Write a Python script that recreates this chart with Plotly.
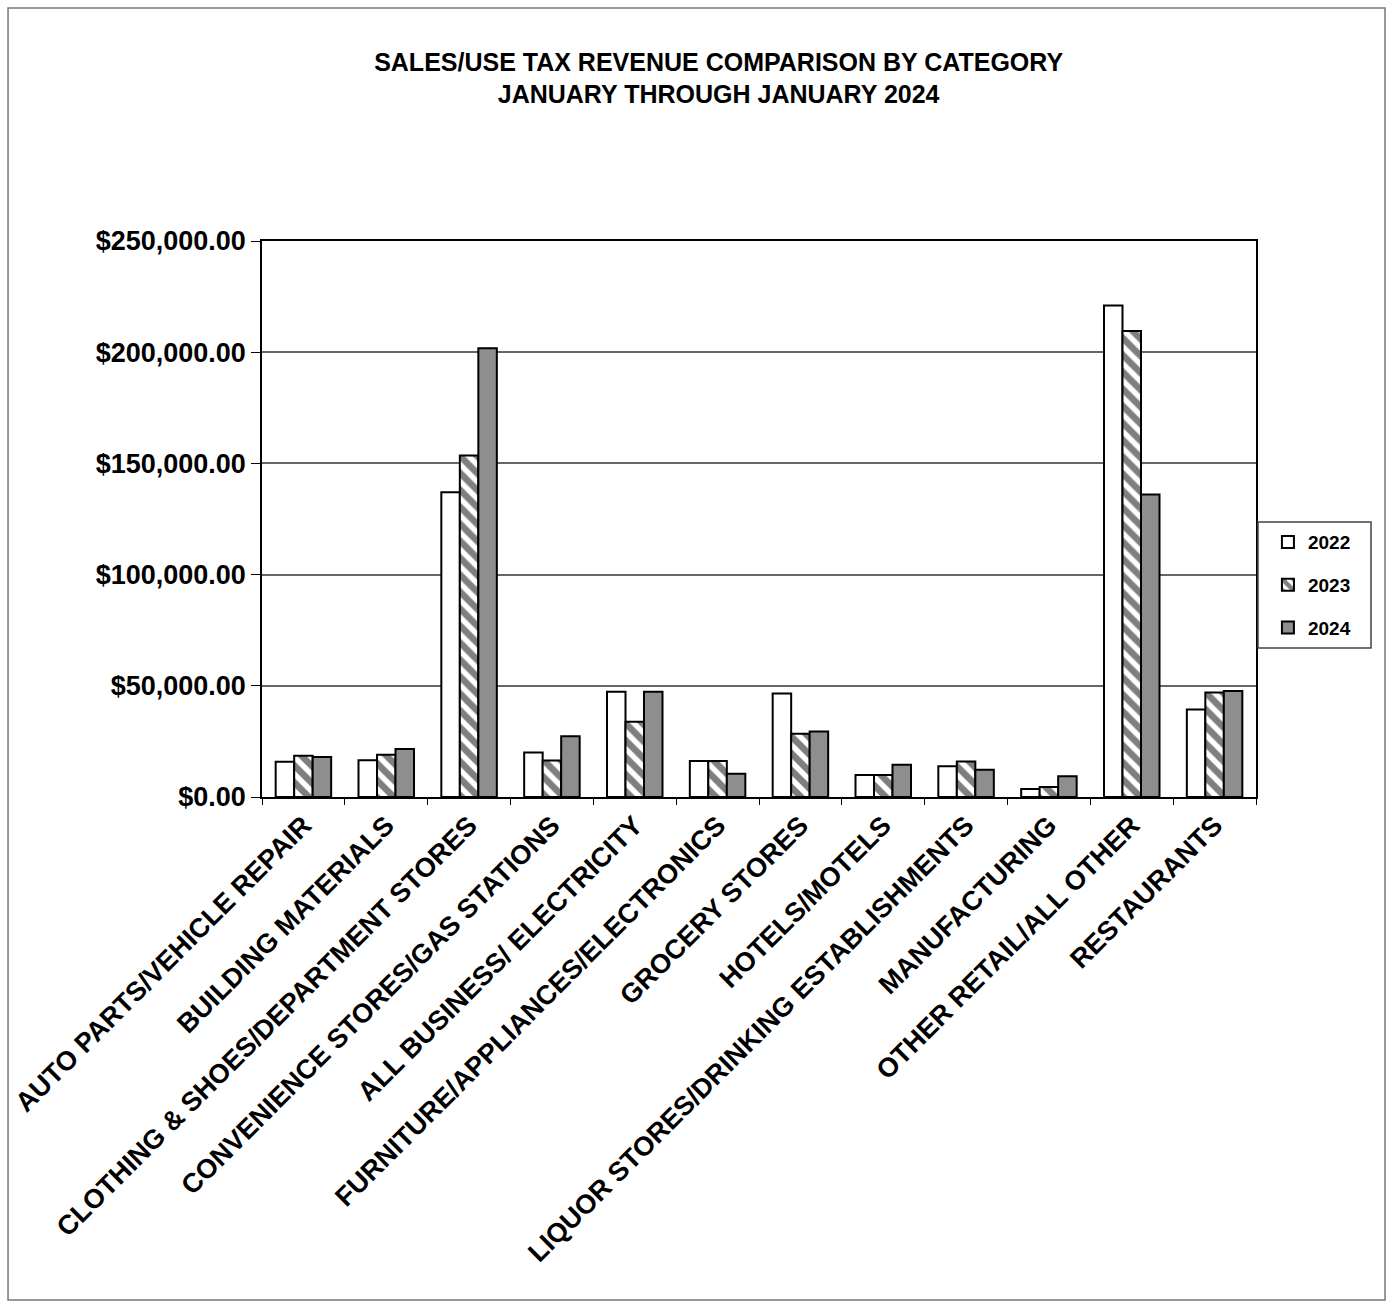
import plotly.graph_objects as go

categories = [
    "AUTO PARTS/VEHICLE REPAIR",
    "BUILDING MATERIALS",
    "CLOTHING & SHOES/DEPARTMENT STORES",
    "CONVENIENCE STORES/GAS STATIONS",
    "ALL BUSINESS/ ELECTRICITY",
    "FURNITURE/APPLIANCES/ELECTRONICS",
    "GROCERY STORES",
    "HOTELS/MOTELS",
    "LIQUOR STORES/DRINKING ESTABLISHMENTS",
    "MANUFACTURING",
    "OTHER RETAIL/ALL OTHER",
    "RESTAURANTS",
]

v2022 = [15800, 16500, 137000, 20000, 47300, 16200, 46500, 9900, 13800, 3600, 221000, 39300]
v2023 = [18500, 19000, 153600, 16400, 33800, 16200, 28400, 9900, 16000, 4500, 209500, 47000]
v2024 = [18000, 21600, 201800, 27300, 47300, 10400, 29400, 14500, 12300, 9300, 136000, 47700]

years = ["2022", "2023", "2024"]

FONT = "Liberation Sans, Arial, sans-serif"

fig = go.Figure()
fig.add_trace(go.Bar(
    name=years[0], x=categories, y=v2022, legendgroup="a",
    marker=dict(color="white", line=dict(color="black", width=2)),
))
fig.add_trace(go.Bar(
    name=years[1], x=categories, y=v2023, legendgroup="b",
    marker=dict(color="white", line=dict(color="black", width=2),
                pattern=dict(shape="\\", fgcolor="black", bgcolor="white",
                             size=12, solidity=0.55)),
))
fig.add_trace(go.Bar(
    name=years[2], x=categories, y=v2024, legendgroup="c",
    marker=dict(color="#8e8e8e", line=dict(color="black", width=2)),
))

fig.update_layout(
    width=1390, height=1302,
    margin=dict(l=262, r=134, t=241, b=505),
    paper_bgcolor="white", plot_bgcolor="white",
    barmode="group", bargap=0.33, bargroupgap=0,
    showlegend=True,
    title=dict(
        text="SALES/USE TAX REVENUE COMPARISON BY CATEGORY<br>JANUARY THROUGH JANUARY 2024",
        x=0.517, xanchor="center", y=0.9456, yanchor="top",
        font=dict(family=FONT, size=25, color="black", weight="bold"),
    ),
    legend=dict(
        x=1.012, xanchor="left", y=0.381, yanchor="middle",
        borderwidth=0, bgcolor="rgba(0,0,0,0)",
        font=dict(family=FONT, size=19, color="black", weight="bold"),
        itemwidth=30, tracegroupgap=15,
    ),
    xaxis=dict(
        tickangle=-45, tickson="boundaries", ticks="outside", ticklen=6,
        tickcolor="black", showline=True, linecolor="black", linewidth=1.5,
        mirror=True, showgrid=False,
        tickfont=dict(family=FONT, size=27, color="black", weight="bold"),
        automargin=False,
    ),
    yaxis=dict(
        range=[0, 250000], dtick=50000, tickprefix="$", tickformat=",.2f",
        ticks="outside", ticklen=9, tickcolor="black",
        showline=True, linecolor="black", linewidth=1.5, mirror=True,
        showgrid=True, gridcolor="#666", gridwidth=1.6, zeroline=False,
        tickfont=dict(family=FONT, size=27, color="black", weight="bold"),
        automargin=False,
    ),
    shapes=[
        dict(
            type="rect", xref="paper", yref="paper",
            x0=-0.2555, x1=1.1298, y0=-0.9047, y1=1.419,
            line=dict(color="#777", width=1.5), fillcolor="rgba(0,0,0,0)",
        ),
        dict(
            type="rect", xref="paper", yref="paper",
            x0=1.002, x1=1.1157, y0=0.268, y1=0.4946,
            line=dict(color="#444", width=1.5), fillcolor="rgba(0,0,0,0)",
        ),
    ],
)

fig.write_html("out.html")
